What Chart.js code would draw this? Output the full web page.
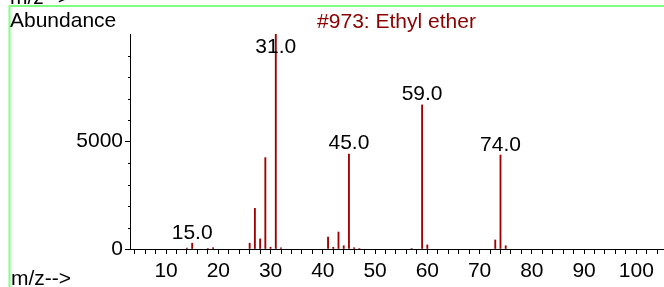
<!DOCTYPE html>
<html><head><meta charset="utf-8">
<script src="https://cdn.jsdelivr.net/npm/chart.js@4/dist/chart.umd.min.js"></script>
<style>html,body{margin:0;padding:0;background:#fff;overflow:hidden}#wrap{width:664px;height:287px;position:relative}</style>
</head><body><div id="wrap"><canvas id="c" width="664" height="287"></canvas></div>
<script>
// ---- data ----
const mz        = [14, 15, 18, 19, 26, 27, 28, 29, 30, 31, 32, 41, 42, 43, 44, 45, 46, 47, 57, 59, 60, 73, 74, 75];
const abundance = [40, 270, 25, 60, 270, 1890, 470, 4250, 80, 10000, 50, 560, 80, 790, 150, 4420, 60, 20, 25, 6700, 190, 420, 4370, 150];
const labeledPeaks = [15, 31, 45, 59, 74];
const xTickLabels = [10, 20, 30, 40, 50, 60, 70, 80, 90, 100];
const yTickLabels = [0, 5000];
const titleText = '#973: Ethyl ether';
const yAxisTitle = 'Abundance';
const xAxisTitle = 'm/z-->';

const FONT = '"Liberation Sans", Arial, sans-serif';
const fontSize = 21;

const decor = {
  id: 'decor',
  afterDraw(chart) {
    const ctx = chart.ctx, ca = chart.chartArea;
    const xs = chart.scales.x, ys = chart.scales.y;
    ctx.save();
    // green frame
    ctx.strokeStyle = '#80ff80';
    ctx.lineWidth = 2;
    ctx.beginPath();
    ctx.moveTo(9.5, 300); ctx.lineTo(9.5, 6); ctx.lineTo(700, 6);
    ctx.stroke();
    // minor y ticks
    ctx.strokeStyle = '#000'; ctx.lineWidth = 1;
    ys.ticks.forEach(t => {
      if (yTickLabels.indexOf(t.value) >= 0) return;
      const py = Math.round(ys.getPixelForValue(t.value)) + 0.5;
      ctx.beginPath(); ctx.moveTo(ca.left - 2, py); ctx.lineTo(ca.left, py); ctx.stroke();
    });
    // texts
    ctx.font = fontSize + 'px ' + FONT;
    ctx.textBaseline = 'alphabetic';
    ctx.fillStyle = '#000';
    ctx.textAlign = 'left';
    ctx.fillText(yAxisTitle, 10, 26.5);
    ctx.fillText(xAxisTitle, 11, 285);
    ctx.fillText(xAxisTitle, 10, 4);
    ctx.fillStyle = '#8b0000';
    ctx.textAlign = 'center';
    ctx.fillText(titleText, (ca.left + ca.right) / 2, 27.5);
    // peak labels
    ctx.fillStyle = '#000';
    labeledPeaks.forEach(m => {
      const i = mz.indexOf(m);
      const px = xs.getPixelForValue(m);
      let py = ys.getPixelForValue(abundance[i]) - 4.5;
      py = Math.max(py, ca.top + 19);
      ctx.fillText(m.toFixed(1), px, py);
    });
    ctx.restore();
  }
};

new Chart(document.getElementById('c'), {
  type: 'bar',
  data: {
    datasets: [{
      data: mz.map((m, i) => ({x: m, y: abundance[i]})),
      backgroundColor: '#a00000',
      borderWidth: 0,
      barThickness: 1.2
    }]
  },
  options: {
    responsive: false,
    animation: false,
    devicePixelRatio: 1,
    layout: {padding: {top: 34, left: 0, right: 1, bottom: 0}},
    plugins: {legend: {display: false}, tooltip: {enabled: false}, title: {display: false}},
    scales: {
      x: {
        type: 'linear', min: 3.1, max: 105.1, offset: false,
        afterFit: s => { s.height = 38; },
        afterBuildTicks: s => {
          const t = [];
          for (let v = 4; v <= 104; v += 2) t.push({value: v});
          s.ticks = t;
        },
        grid: {drawOnChartArea: false, offset: false, tickLength: 5, color: '#000', tickColor: '#000'},
        border: {display: true, color: '#000', width: 1},
        ticks: {
          autoSkip: false, maxRotation: 0, padding: 5, color: '#000',
          font: {family: FONT, size: fontSize},
          callback: v => xTickLabels.indexOf(v) >= 0 ? String(v) : ''
        }
      },
      y: {
        type: 'linear', min: 0, max: 10000,
        afterFit: s => { s.width = 130; },
        afterBuildTicks: s => {
          const t = [];
          for (let v = 0; v <= 9000; v += 1000) t.push({value: v});
          s.ticks = t;
        },
        grid: {drawOnChartArea: false, tickLength: 5, color: '#000',
               tickColor: c => (c.tick && yTickLabels.indexOf(c.tick.value) >= 0) ? '#000' : 'rgba(0,0,0,0)'},
        border: {display: true, color: '#000', width: 1},
        ticks: {
          autoSkip: false, padding: 2, color: '#000',
          font: {family: FONT, size: fontSize},
          callback: v => yTickLabels.indexOf(v) >= 0 ? String(v) : ''
        }
      }
    }
  },
  plugins: [decor]
});
</script>
</body></html>
